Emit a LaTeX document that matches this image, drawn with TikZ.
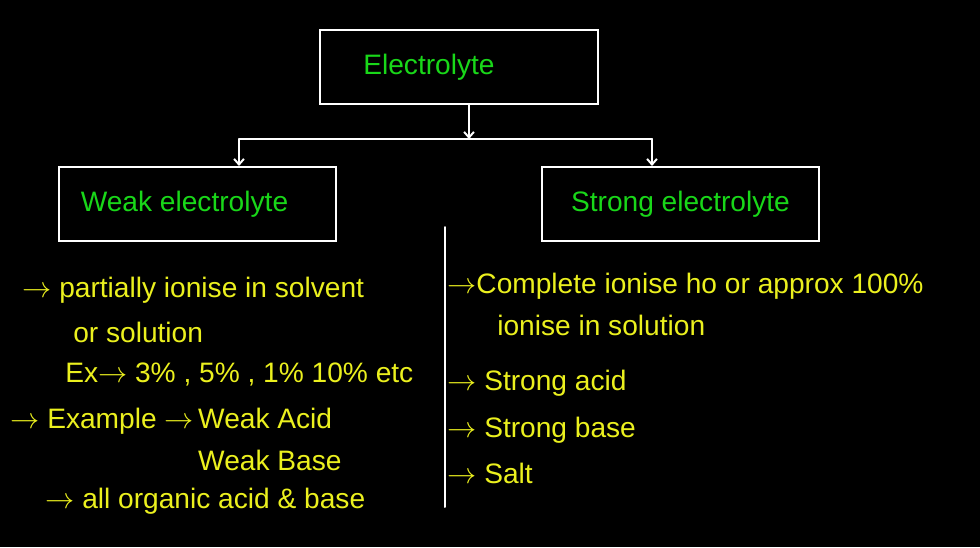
\documentclass[tikz,border=0pt]{standalone}
\usepackage{fontspec}
\setmainfont{Liberation Sans}
\usetikzlibrary{positioning, arrows.meta}
\definecolor{inkgreen}{RGB}{25,215,25}
\definecolor{inkyellow}{RGB}{235,240,30}

\begin{document}
\begin{tikzpicture}[x=0.025cm, y=-0.025cm,
  box/.style={draw=white, line width=1.4pt, minimum width=6.93cm, minimum height=1.85cm, text=inkgreen, font=\fontsize{20}{24}\selectfont},
  note/.style={anchor=base west, inner sep=0pt, text=inkyellow, font=\fontsize{20}{24}\selectfont},
  arr/.style={-{Straight Barb[length=4pt,width=7pt]}, line width=1.4pt, white, line cap=round},
  wire/.style={line width=1.4pt, white, line cap=round}]
  \fill[black] (0,0) rectangle (980,547);
  % boxes
  \node[box] (top) at (459,67) {Electrolyte\hspace*{1.5cm}};
  \node[box] (weak) at (197.5,204) {Weak electrolyte\hspace*{0.65cm}};
  \node[box] (strong) at (680.5,204) {Strong electrolyte};
  \coordinate (split) at (469,139);
  \coordinate (lsplit) at (239,139);
  \coordinate (rsplit) at (652,139);
  \draw[arr] (top.south -| split) -- (split);
  \draw[wire] (lsplit) -- (rsplit);
  \draw[arr] (lsplit) -- (lsplit |- weak.north);
  \draw[arr] (rsplit) -- (rsplit |- strong.north);
  \coordinate (divtop) at (445,227);
  \coordinate (divbot) at (445,507);
  \draw[wire] (divtop) -- (divbot);
  % weak side
  \node[note] (partial) at (22,297) {$\rightarrow$ partially ionise in solvent};
  \node[note] (orsol) at (73,342) {or solution};
  \node[note] (expct) at (65,382) {Ex$\rightarrow$ 3\% , 5\% , 1\% 10\% etc};
  \node[note] (example) at (10,428) {$\rightarrow$ Example $\rightarrow$};
  \node[note, right=0.1cm of example.base east, anchor=base west] (wacid) {Weak Acid};
  \node[note, below=1.05cm of wacid.base west, anchor=base west] (wbase) {Weak Base};
  \node[note] (organic) at (45,508) {$\rightarrow$ all organic acid \& base};
  % strong side
  \node[note] (complete) at (447,293) {$\rightarrow$Complete ionise ho or approx 100\%};
  \node[note] (insol) at (497,335) {ionise in solution};
  \node[note] (sacid) at (447,390) {$\rightarrow$ Strong acid};
  \node[note] (sbase) at (447,437) {$\rightarrow$ Strong base};
  \node[note] (salt) at (447,483) {$\rightarrow$ Salt};
\end{tikzpicture}
\end{document}
